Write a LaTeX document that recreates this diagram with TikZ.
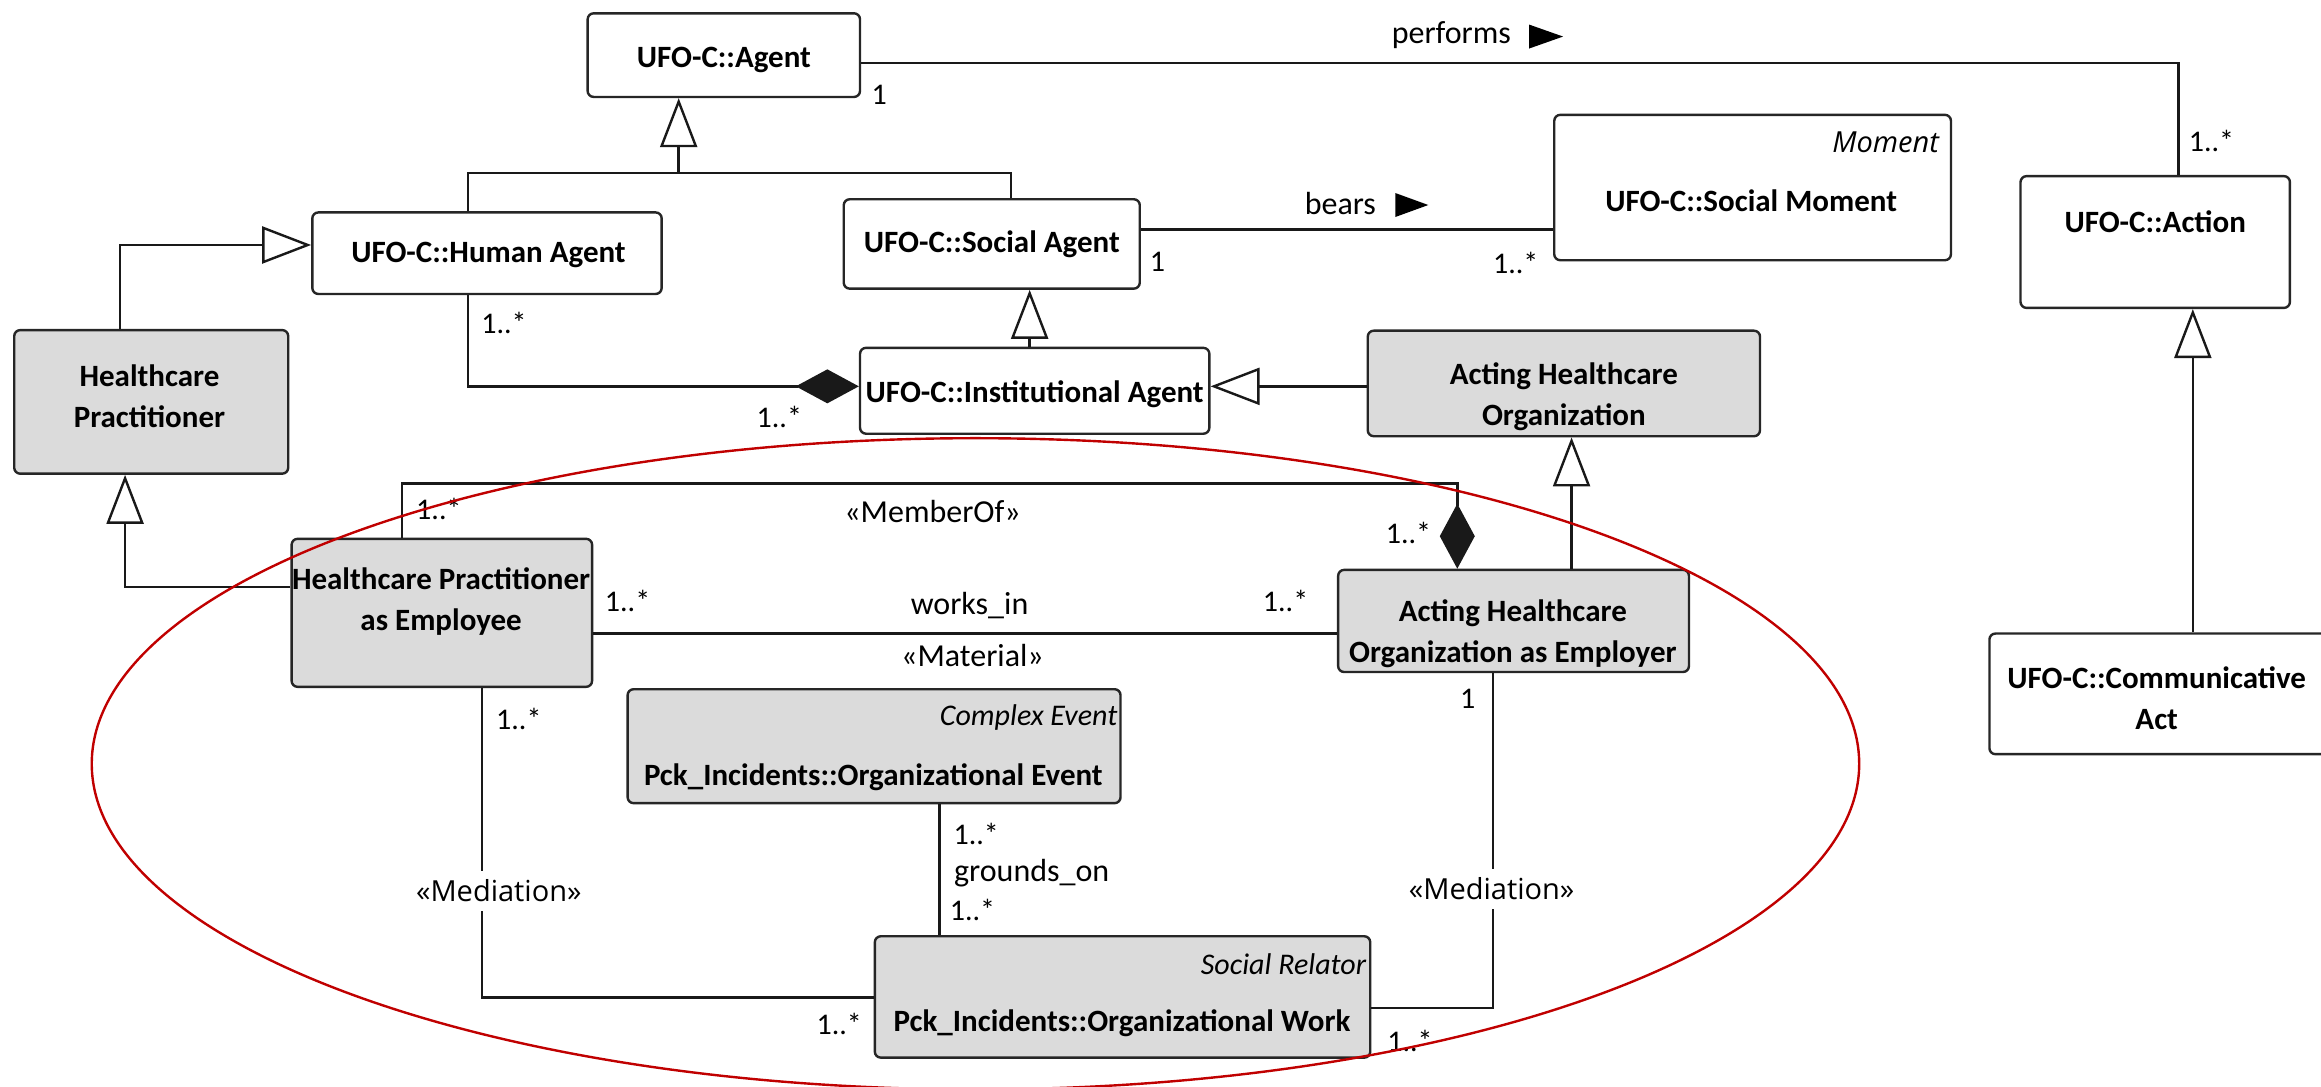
\documentclass[tikz,border=0pt]{standalone}
\usepackage{fontspec}
\setmainfont{Carlito}
\newfontfamily\uifont{Open Sans}
\usetikzlibrary{arrows.meta}
\definecolor{hilite}{RGB}{192,0,0}
\definecolor{classgray}{RGB}{219,219,219}

% class box given by its corners (x1,y1)-(x2,y2), empty content
\newcommand\classbox[6]{%
  \node[#6, minimum width={((#4)-(#2))*1.4802pt}, minimum height={((#5)-(#3))*1.4802pt}]
    (#1) at ({((#2)+(#4))/2},{((#3)+(#5))/2}) {};}

\begin{document}
\begin{tikzpicture}[x=1.4802pt, y=-1.4802pt,
  cls/.style={draw=black!85, line width=2.4pt, rounded corners=6pt, fill=white, inner sep=0pt},
  clsg/.style={cls, fill=classgray},
  cname/.style={font=\bfseries\fontsize{31}{41}\selectfont, align=center, inner sep=0pt},
  ster/.style={font=\itshape\fontsize{30}{36}\selectfont, inner sep=0pt, anchor=east},
  lbl/.style={font=\fontsize{32}{38}\selectfont, inner sep=0pt},
  mult/.style={font=\fontsize{30}{36}\selectfont, inner sep=0pt},
  medlbl/.style={font=\uifont\fontsize{29}{34}\selectfont, fill=white, inner sep=0pt, minimum height=40pt},
  conn/.style={draw=black!90, line width=2.4pt},
  gen/.style={conn, -{Triangle[length=49pt, width=37pt, fill=white]}},
  comp/.style={conn, -{Diamond[length=63pt, width=34pt]}},
]
\useasboundingbox (0,0) rectangle (1568,734);

% ---------- classes ----------
\classbox{agent}{397}{9}{581}{65.5}{cls}
\classbox{human}{211}{143.5}{447}{198.6}{cls}
\classbox{social}{570}{134.6}{770}{195}{cls}
\classbox{moment}{1050}{77.6}{1318}{175.8}{cls}
\classbox{action}{1365}{119}{1547}{208}{cls}
\classbox{comm}{1344}{428}{1580}{509.5}{cls}
\classbox{hp}{9.6}{223}{194.7}{320}{clsg}
\classbox{inst}{581}{235}{817}{293}{cls}
\classbox{aho}{924}{223.4}{1189}{294.7}{clsg}
\classbox{hpe}{197}{364}{400}{464}{clsg}
\classbox{ahoe}{904}{385}{1141}{454}{clsg}
\classbox{oe}{424}{465.6}{757}{542.6}{clsg}
\classbox{ow}{591}{632.5}{925.7}{714.5}{clsg}

\node[cname] (agent-t) at (489,40.5) {UFO-C::Agent};
\node[cname] (human-t) at (330,172) {UFO-C::Human Agent};
\node[cname] (social-t) at (670,165) {UFO-C::Social Agent};
\node[ster, font=\uifont\itshape\fontsize{29}{34}\selectfont] (moment-s) at (1310,96) {Moment};
\node[cname] (moment-t) at (1183,135.5) {UFO-C::Social Moment};
\node[cname] (action-t) at (1456,150) {UFO-C::Action};
\node[cname] (comm-t) at (1457,471.7) {UFO-C::Communicative\\Act};
\node[cname] (hp-t) at (101,267.5) {Healthcare\\Practitioner};
\node[cname] (inst-t) at (699,266) {UFO-C::Institutional Agent};
\node[cname] (aho-t) at (1056.5,268) {Acting Healthcare\\Organization};
\node[cname] (hpe-t) at (298,406.7) {Healthcare Practitioner\\as Employee};
\node[cname] (ahoe-t) at (1022,428) {Acting Healthcare\\Organization as Employer};
\node[ster] (oe-s) at (755,485) {Complex Event};
\node[cname] (oe-t) at (590,525) {Pck\_Incidents::Organizational Event};
\node[ster] (ow-s) at (923,651.7) {Social Relator};
\node[cname] (ow-t) at (758,691) {Pck\_Incidents::Organizational Work};

% ---------- connectors ----------
\coordinate (pf) at (1471.6,42.4);
\draw[conn] (agent.east |- pf) -- (pf) -- (action.north -| pf);
\coordinate (br) at (0,155);
\draw[conn] (social.east |- br) -- (moment.west |- br);

\coordinate (gA) at (316,117);
\coordinate (gB) at (683,117);
\coordinate (gC) at (458.5,117);
\draw[conn] (human.north -| gA) -- (gA) -- (gB) -- (social.north -| gB);
\draw[gen] (gC) -- (agent.south -| gC);

\coordinate (hA) at (81,165.5);
\draw[gen] (hp.north -| hA) -- (hA) -- (human.west |- hA);

\coordinate (cA) at (316,261);
\draw[comp] (human.south -| cA) -- (cA) -- (inst.west |- cA);

\coordinate (sA) at (695.6,0);
\draw[gen] (inst.north -| sA) -- (social.south -| sA);

\coordinate (aA) at (0,261);
\draw[gen] (aho.west |- aA) -- (inst.east |- aA);

\coordinate (eA) at (1061.7,0);
\draw[gen] (ahoe.north -| eA) -- (aho.south -| eA);

\coordinate (pA) at (84.5,396.6);
\draw[gen] (hpe.west |- pA) -- (pA) -- (hp.south -| pA);

\coordinate (cX) at (1481.4,0);
\draw[gen] (comm.north -| cX) -- (action.south -| cX);

\coordinate (mA) at (271.6,326.7);
\coordinate (mB) at (984.5,326.7);
\draw[conn, -{Diamond[length=65pt, width=35pt]}] (hpe.north -| mA) -- (mA) -- (mB) -- (ahoe.north -| mB);

\coordinate (wY) at (0,428);
\draw[conn] (hpe.east |- wY) -- (ahoe.west |- wY);

\coordinate (gX) at (634.7,0);
\draw[conn] (oe.south -| gX) -- (ow.north -| gX);

\coordinate (lA) at (325.7,674);
\draw[conn] (hpe.south -| lA) -- (lA) -- (ow.west |- lA);

\coordinate (rA) at (1008.7,681);
\draw[conn] (ahoe.south -| rA) -- (rA) -- (ow.east |- rA);

% ---------- labels ----------
\node[lbl] (perf) at (980.5,23.6) {performs};
\fill (1033,24.7) ++(0pt,12pt) -- ++(34pt,-12pt) -- ++(-34pt,-12pt) -- cycle;
\node[lbl] (bears) at (905.5,137.8) {bears};
\fill (942.6,138.5) ++(0pt,12pt) -- ++(33pt,-12pt) -- ++(-33pt,-12pt) -- cycle;

\node[mult] (m1) at (594,64) {1};
\node[mult] (m2) at (1494,95.5) {1..*};
\node[mult] (m3) at (782,176.8) {1};
\node[mult] (m4) at (1024,177.9) {1..*};
\node[mult] (m5) at (340.5,218) {1..*};
\node[mult] (m6) at (526.5,281.5) {1..*};
\node[mult] (m7) at (296.5,344) {1..*};
\node[lbl] (memberof) at (630,345.6) {«MemberOf»};
\node[mult] (m8) at (951.5,360) {1..*};
\node[mult] (m9) at (424,406) {1..*};
\node[lbl] (worksin) at (655,409) {works\_in};
\node[mult] (m10) at (868.5,406) {1..*};
\node[lbl] (material) at (657,443) {«Material»};
\node[mult] (m11) at (350.5,485.5) {1..*};
\node[medlbl] (medL) at (337,602) {«Mediation»};
\node[mult] (m12) at (567,692) {1..*};
\node[mult] (m13) at (659.5,563.6) {1..*};
\node[lbl] (grounds) at (697,589.6) {grounds\_on};
\node[mult] (m14) at (657,615) {1..*};
\node[mult] (m15) at (991.5,472) {1};
\node[medlbl] (medR) at (1007.7,600.6) {«Mediation»};
\node[mult] (m16) at (952.5,703) {1..*};

% ---------- highlighted region ----------
\draw[hilite, line width=2.4pt] (659,516) ellipse [x radius=883.7pt, y radius=325.6pt];
\end{tikzpicture}
\end{document}
